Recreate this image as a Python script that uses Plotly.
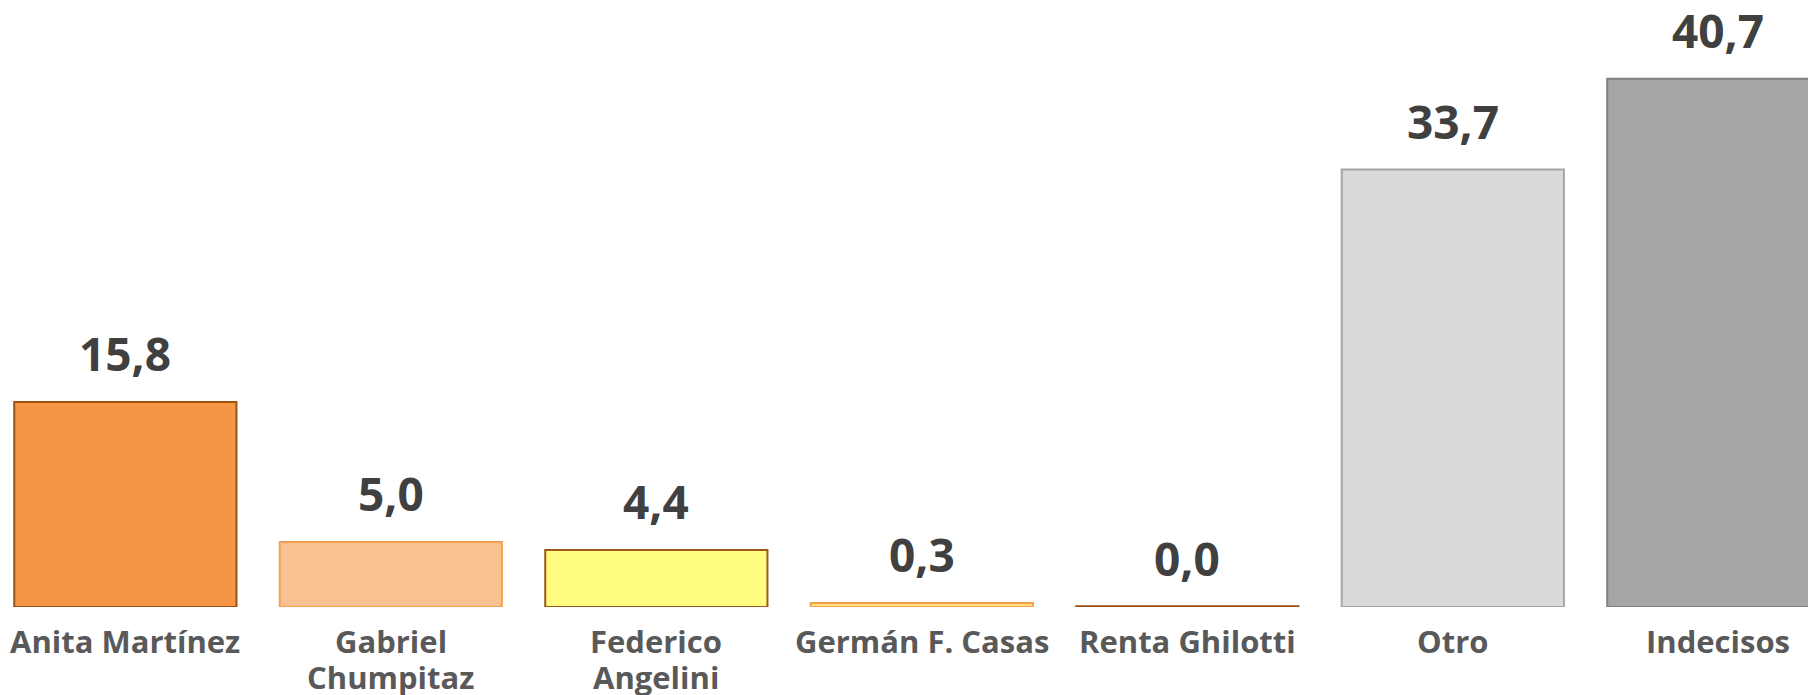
import plotly.graph_objects as go

categories = ["Anita Martínez", "Gabriel<br>Chumpitaz", "Federico<br>Angelini",
              "Germán F. Casas", "Renta Ghilotti", "Otro", "Indecisos"]
values = [15.8, 5.0, 4.4, 0.3, 0.0, 33.7, 40.7]
value_labels = ["15,8", "5,0", "4,4", "0,3", "0,0", "33,7", "40,7"]

fill_colors = ["#F59646", "#F8C191", "#FFFC7F", "#FFE47A", "#9C4A0E", "#D9D9D9", "#A6A6A6"]
line_colors = ["#A0520F", "#F5A050", "#A0581A", "#F5A050", "#9C4A0E", "#A6A6A6", "#808080"]

FONT = "Open Sans"

# tiny minimum so a 0.0 bar is still drawn as a thin baseline stroke, as in the original
draw_values = [max(v, 0.06) for v in values]

fig = go.Figure(
    go.Bar(
        x=categories,
        y=draw_values,
        marker=dict(color=fill_colors, line=dict(color=line_colors, width=2)),
        hoverinfo="skip",
    )
)

# value labels above bars
for c, v, t in zip(categories, values, value_labels):
    fig.add_annotation(
        x=c, y=v, text=t, showarrow=False, yanchor="bottom", yshift=16,
        font=dict(family=FONT, size=46, color="#404040", weight="bold"),
    )

# category labels below axis (line by line for tight Calibri-like spacing)
for c in categories:
    for i, line in enumerate(c.split("<br>")):
        fig.add_annotation(
            x=c, xref="x", y=0, yref="paper", text=line, showarrow=False,
            yanchor="middle", yshift=-34 - 36 * i,
            font=dict(family=FONT, size=31, color="#595959", weight="bold"),
        )

fig.update_layout(
    width=1816, height=695,
    margin=dict(l=0, r=0, t=0, b=96),
    plot_bgcolor="white", paper_bgcolor="white",
    bargap=0.163,
    showlegend=False,
    xaxis=dict(range=[-0.442, 6.398], showgrid=False, zeroline=False,
               showline=False, showticklabels=False, ticks="", automargin=False),
    yaxis=dict(range=[0, 46.15], visible=False, automargin=False),
)

fig.write_html("out.html")
